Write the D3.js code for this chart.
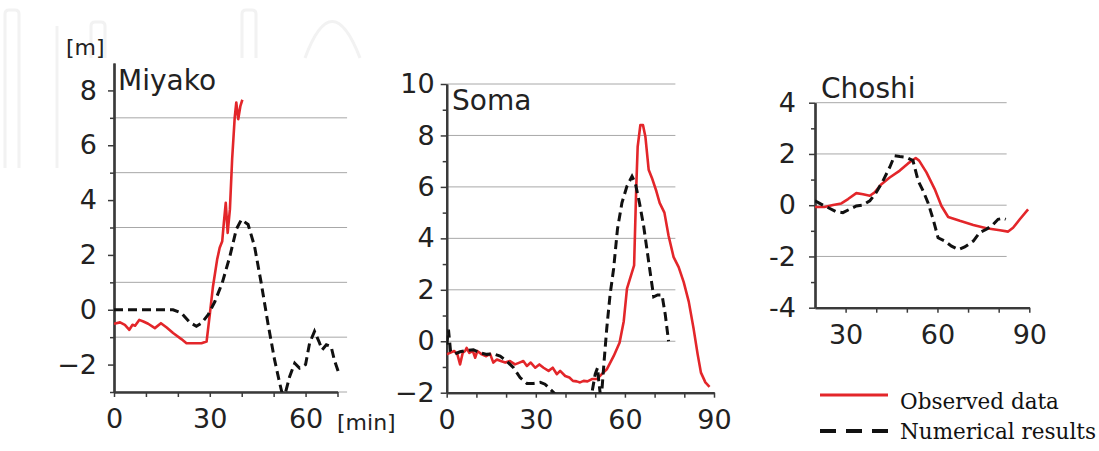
<!DOCTYPE html>
<html>
<head>
<meta charset="utf-8">
<script src="https://cdn.jsdelivr.net/npm/d3@7"></script>
<style>
body { margin:0; background:#fff; }
</style>
</head>
<body>
<div id="chart"></div>
<script>
// Miyako: observed (red) and numerical (dashed), minutes / metres
var miyakoObsT = [0, 1.9, 3.4, 4.8, 5.8, 6.6, 7.9, 9.2, 10.7, 12.8, 14.7, 16.5, 18.5, 21.1, 22.7, 24.8, 27.4, 29, 30, 31, 32.3, 33.1, 33.9, 34.4, 35, 35.6, 36.3, 37, 37.8, 38.3, 38.9, 39.6, 40.2];
var miyakoObsV = [-0.51, -0.46, -0.55, -0.73, -0.55, -0.58, -0.37, -0.43, -0.51, -0.67, -0.49, -0.65, -0.85, -1.07, -1.22, -1.22, -1.22, -1.16, -0.18, 0.85, 1.83, 2.26, 2.5, 3.17, 3.9, 2.8, 3.66, 5.49, 7.0, 7.56, 6.95, 7.44, 7.66];
var miyakoNumT = [0, 18.5, 21.1, 23.75, 25.8, 27.4, 29.5, 31.6, 33.9, 36.3, 38.3, 39.9, 42, 44, 46.1, 48.2, 50.3, 51.9, 52.7, 53.75, 55, 56.6, 58.1, 60, 61.25, 62.8, 64.2, 65.2, 66.5, 68, 69, 70.6];
var miyakoNumV = [0, 0, -0.12, -0.46, -0.6, -0.49, -0.18, 0.3, 0.98, 1.95, 2.93, 3.29, 3.11, 2.32, 0.98, -0.49, -1.83, -2.68, -3.07, -3, -2.44, -1.95, -2.13, -2.0, -1.22, -0.79, -1.16, -1.46, -1.28, -1.34, -1.83, -2.38];

// Soma
var somaObsT = [0, 1.1, 2.5, 3.6, 4.5, 5.4, 6.2, 6.7, 7.6, 8.8, 9.6, 10.3, 11.8, 13.3, 14.6, 15.7, 16.9, 18.2, 19.7, 21.3, 23, 24.5, 25.8, 27, 28.3, 29.8, 31.2, 32.6, 34.3, 35.7, 37.1, 38.2, 39.9, 41.3, 42.5, 43.8, 44.9, 46.1, 47.4, 48.9, 50.6, 52.2, 53.9, 56.2, 58.2, 59.6, 60.7, 62.4, 63.1, 63.8, 64.3, 65.2, 66.1, 66.9, 68, 69.1, 70.6, 71.7, 73.3, 74.7, 76.4, 78.1, 79.8, 81.5, 83.1, 84.5, 85.6, 87.1, 88.5];
var somaObsV = [-0.51, -0.45, -0.38, -0.51, -0.9, -0.45, -0.38, -0.26, -0.45, -0.38, -0.64, -0.38, -0.51, -0.58, -0.49, -0.83, -0.71, -0.77, -0.83, -0.77, -0.9, -0.83, -0.77, -0.96, -0.83, -1.03, -0.9, -1.03, -1.15, -1.03, -1.28, -1.15, -1.35, -1.41, -1.54, -1.56, -1.6, -1.54, -1.56, -1.47, -1.47, -1.28, -1.09, -0.58, -0.06, 0.77, 2.05, 2.69, 2.95, 5.9, 7.56, 8.4, 8.4, 7.95, 6.67, 6.35, 5.83, 5.38, 5.0, 4.1, 3.27, 2.88, 2.3, 1.54, 0.51, -0.51, -1.22, -1.6, -1.77];
var somaNumT = [0, 0.6, 1.3, 2.8, 4.5, 6.7, 9, 11.2, 13.5, 15.7, 18, 20.2, 22.5, 24.7, 27, 29.2, 31.5, 33.1, 34.8, 36.5, 40, 44, 48.9, 50, 50.8, 51.2, 51.7, 52.2, 53, 53.9, 55, 56.2, 57.5, 59, 60.7, 62.4, 63.5, 64.9, 66.3, 67.4, 68.8, 69.7, 71, 72.5, 73.6, 74.7];
var somaNumV = [-0.13, 0.45, -0.38, -0.49, -0.41, -0.36, -0.33, -0.45, -0.51, -0.49, -0.58, -0.77, -1.03, -1.41, -1.64, -1.64, -1.6, -1.67, -1.86, -2.05, -2.4, -2.6, -2.0, -1.28, -1.03, -1.54, -2.05, -2.0, -0.77, 0.51, 1.8, 2.82, 4.36, 5.38, 6.03, 6.41, 6.15, 5.38, 4.49, 3.59, 2.44, 1.73, 1.8, 1.8, 1.03, 0];

// Choshi
var choshiObsT = [20, 23.1, 25.9, 28.6, 30.8, 33.5, 35.7, 37.9, 39.5, 41.7, 44.4, 47.7, 50.4, 52.9, 54, 56.4, 59.1, 61.3, 63.5, 67.3, 71.7, 76, 80.4, 83.1, 84.7, 86.9, 89.6];
var choshiObsV = [-0.07, -0.07, 0.01, 0.07, 0.24, 0.47, 0.43, 0.37, 0.5, 0.82, 1.08, 1.35, 1.63, 1.84, 1.74, 1.28, 0.63, -0.03, -0.46, -0.61, -0.77, -0.9, -0.98, -1.03, -0.88, -0.55, -0.16];
var choshiNumT = [20, 22, 24.2, 26.9, 29.1, 31.3, 33.5, 35.7, 37.9, 40, 42.2, 44.4, 46, 47.7, 49.8, 52, 53.7, 55.3, 56.9, 58.6, 60.2, 62.4, 64.6, 66.8, 68.9, 71.7, 73.8, 76, 78.2, 79.8, 81.5, 82.3];
var choshiNumV = [0.17, 0.04, -0.09, -0.25, -0.29, -0.16, -0.03, 0.01, 0.17, 0.5, 0.95, 1.48, 1.93, 1.9, 1.87, 1.74, 0.95, 0.56, 0.1, -0.55, -1.27, -1.4, -1.6, -1.73, -1.63, -1.4, -1.07, -0.94, -0.75, -0.55, -0.51, -0.55];

var legendLabels = ["Observed data", "Numerical results"];

var red = "#e3262a", axisColor = "#3a3a3a", textColor = "#222";
var svg;

function zip(t, v) {
  return t.map(function(d, i) { return [d, v[i]]; });
}

document.addEventListener('DOMContentLoaded', function () {
  svg = d3.select("#chart")
    .append("svg")
    .attr("width", 1099)
    .attr("height", 451)
    .style("font-family", "'DejaVu Sans', sans-serif");

  drawWatermark();

  drawPanel({
    id: "miyako", title: "Miyako", obs: zip(miyakoObsT, miyakoObsV), num: zip(miyakoNumT, miyakoNumV),
    xDom: [0, 70], xRange: [114, 337.5], yDom: [-3, 9], yRange: [392, 63],
    yMajor: [-2, 0, 2, 4, 6, 8], yMinor: [-3, -1, 1, 3, 5, 7], grid: [-3, -1, 1, 3, 5, 7], gridEnd: 73,
    xMajor: [0, 30, 60], xMinor: [10, 20, 40, 50, 70], yPad: 11, hyphen: false,
    titleX: 118, titleY: 90
  });
  drawPanel({
    id: "soma", title: "Soma", obs: zip(somaObsT, somaObsV), num: zip(somaNumT, somaNumV),
    xDom: [0, 90], xRange: [446.7, 714], yDom: [-2, 10], yRange: [392.7, 84],
    yMajor: [-2, 0, 2, 4, 6, 8, 10], yMinor: [-1, 1, 3, 5, 7, 9], grid: [0, 2, 4, 6, 8, 10], gridEnd: 77,
    xMajor: [0, 30, 60, 90], xMinor: [10, 20, 40, 50, 70, 80], yPad: 6, hyphen: false,
    titleX: 452, titleY: 110
  });
  drawPanel({
    id: "choshi", title: "Choshi", obs: zip(choshiObsT, choshiObsV), num: zip(choshiNumT, choshiNumV),
    xDom: [20, 90], xRange: [815, 1029.3], yDom: [-4, 4], yRange: [307.7, 102.7],
    yMajor: [-4, -2, 0, 2, 4], yMinor: [-3, -1, 1, 3], grid: [-2, 0, 2, 4], gridEnd: 82.6,
    xMajor: [30, 60, 90], xMinor: [40, 50, 70, 80], yPad: 13, hyphen: true,
    titleX: 821, titleY: 98
  });

  // unit labels
  svg.append("text").attr("x", 66).attr("y", 55).text("[m]")
    .style("font-size", "22px").style("fill", textColor);
  svg.append("text").attr("x", 337).attr("y", 430).text("[min]")
    .style("font-size", "22px").style("fill", textColor);

  drawLegend();
});

function drawPanel(p) {
  var x = d3.scaleLinear().domain(p.xDom).range(p.xRange);
  var y = d3.scaleLinear().domain(p.yDom).range(p.yRange);
  var g = svg.append("g").attr("class", p.id);

  // grid lines
  g.selectAll("line.grid")
    .data(p.grid)
    .enter()
    .append("line")
    .attr("class", "grid")
    .attr("x1", x(p.xDom[0]))
    .attr("x2", x(p.gridEnd))
    .attr("y1", function(d) { return y(d); })
    .attr("y2", function(d) { return y(d); })
    .attr("stroke", "#a8a8a8")
    .attr("stroke-width", 1);

  var fmt = p.hyphen ? function(d) { return String(d); } : d3.format("d");

  // y axis: minor then major ticks
  g.append("g")
    .attr("transform", "translate(" + x(p.xDom[0]) + ",0)")
    .call(d3.axisLeft(y).tickValues(p.yMinor).tickSize(4).tickSizeOuter(0).tickFormat(""))
    .call(styleAxis);
  g.append("g")
    .attr("transform", "translate(" + x(p.xDom[0]) + ",0)")
    .call(d3.axisLeft(y).tickValues(p.yMajor).tickSize(6).tickSizeOuter(0).tickPadding(p.yPad).tickFormat(fmt))
    .call(styleAxis);

  // x axis
  g.append("g")
    .attr("transform", "translate(0," + y(p.yDom[0]) + ")")
    .call(d3.axisBottom(x).tickValues(p.xMinor).tickSize(5).tickSizeOuter(0).tickFormat(""))
    .call(styleAxis);
  g.append("g")
    .attr("transform", "translate(0," + y(p.yDom[0]) + ")")
    .call(d3.axisBottom(x).tickValues(p.xMajor).tickSize(5).tickSizeOuter(0).tickPadding(12).tickFormat(fmt))
    .call(styleAxis);

  // clip region for the series
  svg.append("clipPath").attr("id", "clip-" + p.id)
    .append("rect")
    .attr("x", p.xRange[0])
    .attr("y", p.yRange[1] - 5)
    .attr("width", p.xRange[1] - p.xRange[0] + 6)
    .attr("height", p.yRange[0] - p.yRange[1] + 5);

  var line = d3.line()
    .x(function(d) { return x(d[0]); })
    .y(function(d) { return y(d[1]); });

  g.append("path")
    .datum(p.obs)
    .attr("clip-path", "url(#clip-" + p.id + ")")
    .attr("d", line)
    .attr("fill", "none")
    .attr("stroke", red)
    .attr("stroke-width", 2.6)
    .attr("stroke-linejoin", "round");

  g.append("path")
    .datum(p.num)
    .attr("clip-path", "url(#clip-" + p.id + ")")
    .attr("d", line)
    .attr("fill", "none")
    .attr("stroke", "#111")
    .attr("stroke-width", 3)
    .attr("stroke-dasharray", "9,5");

  g.append("text")
    .attr("x", p.titleX)
    .attr("y", p.titleY)
    .text(p.title)
    .style("font-size", "28px")
    .style("fill", textColor);
}

function styleAxis(sel) {
  sel.select(".domain").attr("stroke", axisColor).attr("stroke-width", 2.2);
  sel.selectAll(".tick line").attr("stroke", axisColor).attr("stroke-width", 1.5);
  sel.selectAll(".tick text")
    .style("font-size", "27px")
    .style("font-family", "'DejaVu Sans', sans-serif")
    .style("fill", textColor);
}

function drawLegend() {
  var lg = svg.append("g").attr("class", "legend");
  lg.append("line").attr("x1", 820).attr("x2", 888).attr("y1", 395).attr("y2", 395)
    .attr("stroke", red).attr("stroke-width", 3);
  lg.append("line").attr("x1", 820).attr("x2", 889).attr("y1", 431).attr("y2", 431)
    .attr("stroke", "#111").attr("stroke-width", 4).attr("stroke-dasharray", "16,10");
  lg.selectAll("text")
    .data(legendLabels)
    .enter()
    .append("text")
    .attr("x", 900)
    .attr("y", function(d, i) { return 409 + i * 30; })
    .text(function(d) { return d; })
    .style("font-family", "'DejaVu Serif', serif")
    .style("font-size", "21.5px")
    .style("fill", "#111");
}

// faint publisher watermark at the top
function drawWatermark() {
  var w = svg.append("g").attr("fill", "none").attr("stroke", "#f2f2f2").attr("stroke-width", 3);
  w.append("path").attr("d", "M5,168 L5,14 Q5,10 9,10 L15,10 Q19,10 19,14 L19,168");
  w.append("path").attr("d", "M57,168 L57,26");
  w.append("path").attr("d", "M91,58 L91,26 Q91,22 95,22 L101,22 Q105,22 105,26 L105,58");
  w.append("path").attr("d", "M242,58 L242,14 Q242,10 246,10 L252,10 Q256,10 256,14 L256,58");
  w.append("path").attr("d", "M305,58 Q332,-15 360,58");
}
</script>
</body>
</html>
